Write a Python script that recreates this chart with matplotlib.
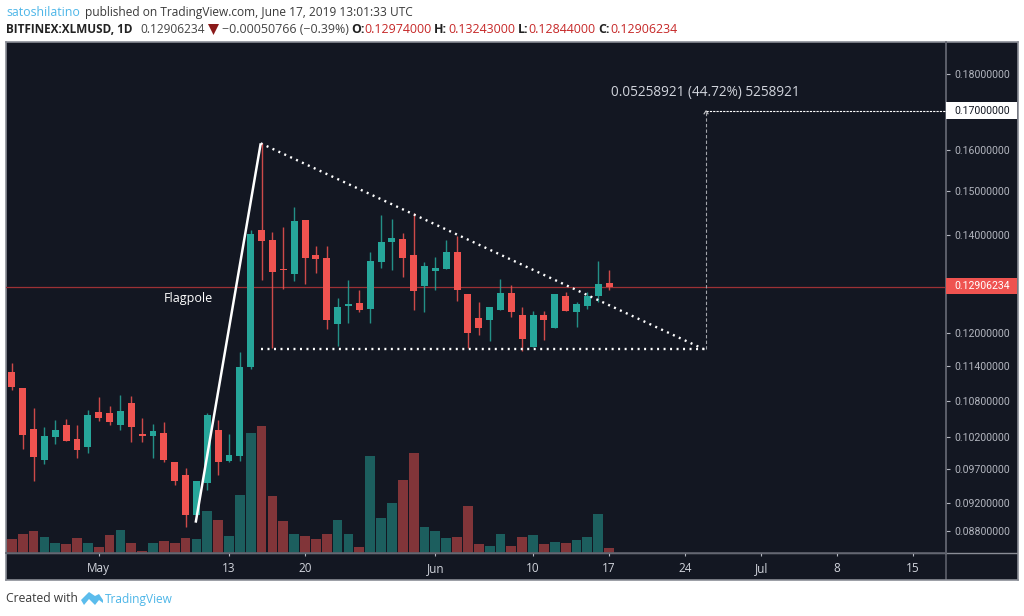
import numpy as np
import matplotlib
matplotlib.use('Agg')
import matplotlib.pyplot as plt
from matplotlib.patches import Rectangle, Polygon

# daily XLMUSD candles from Apr 23 to Jun 17 2019
opens = [0.11298, 0.11014, 0.10329, 0.09844, 0.10200, 0.10394, 0.10168, 0.10042, 0.10607, 0.10596, 0.10389, 0.10758, 0.10243, 0.10216,
         0.10260, 0.09813, 0.09615, 0.09032, 0.09487, 0.10308, 0.09829, 0.09906, 0.11377, 0.14105, 0.13886, 0.13270, 0.13166, 0.14328,
         0.13570, 0.13494, 0.12169, 0.12529, 0.12576, 0.12470, 0.13410, 0.13849, 0.13915, 0.13570, 0.12915, 0.13228, 0.13270, 0.13621,
         0.12760, 0.12284, 0.12251, 0.12439, 0.12780, 0.12353, 0.11750, 0.12353, 0.12099, 0.12720, 0.12400, 0.12517, 0.12726, 0.12974]
highs = [0.11459, 0.11014, 0.10674, 0.10361, 0.10475, 0.10492, 0.10394, 0.10641, 0.10860, 0.10708, 0.10894, 0.10877, 0.10503, 0.10405,
         0.10438, 0.09813, 0.09721, 0.09517, 0.10596, 0.10470, 0.10243, 0.11652, 0.14105, 0.16164, 0.14061, 0.14172, 0.14616, 0.14328,
         0.13750, 0.13750, 0.12687, 0.13043, 0.12840, 0.13621, 0.14441, 0.14350, 0.14046, 0.14479, 0.13410, 0.13515, 0.13886, 0.13973,
         0.12760, 0.12596, 0.12509, 0.13064, 0.12941, 0.12497, 0.12419, 0.12419, 0.12766, 0.12800, 0.12607, 0.12794, 0.13437, 0.13243]
lows = [0.10979, 0.10015, 0.09521, 0.09783, 0.10089, 0.10137, 0.09870, 0.09953, 0.10464, 0.10389, 0.10313, 0.10121, 0.10121, 0.09875,
        0.09813, 0.09457, 0.08864, 0.09032, 0.09388, 0.09615, 0.09813, 0.09829, 0.11346, 0.13043, 0.11726, 0.12861, 0.13023, 0.12962,
        0.13181, 0.12074, 0.11762, 0.12188, 0.12411, 0.12188, 0.13284, 0.13249, 0.13098, 0.12450, 0.12411, 0.12840, 0.13270, 0.12627,
        0.11720, 0.11967, 0.11860, 0.12439, 0.12303, 0.11671, 0.11750, 0.11873, 0.12099, 0.12419, 0.12118, 0.12458, 0.12601, 0.12844]
closes = [0.11036, 0.10232, 0.0989, 0.10216, 0.10313, 0.10137, 0.09995, 0.10563, 0.10513, 0.10438, 0.10629, 0.10356, 0.10216, 0.10292,
          0.09844, 0.09517, 0.09032, 0.09517, 0.10563, 0.09813, 0.09917, 0.11387, 0.14017, 0.13871, 0.13201, 0.13243, 0.14306, 0.13494,
          0.13473, 0.12245, 0.12497, 0.12556, 0.1245, 0.13431, 0.13849, 0.13936, 0.13494, 0.1282, 0.13332, 0.13291, 0.13621, 0.12847,
          0.1201, 0.12099, 0.12509, 0.12786, 0.124, 0.11898, 0.12342, 0.12251, 0.12766, 0.12419, 0.12568, 0.1272, 0.12956, 0.12906]
volumes = [14.0, 19.7, 22.7, 16.0, 10.0, 9.0, 15.0, 10.0, 6.0, 18.7, 23.7, 10.0, 2.0, 10.0, 12.0, 10.0, 15.0, 14.0, 42.3, 33.7, 17.0,
           58.0, 120.0, 127.0, 57.0, 32.7, 19.7, 17.7, 14.0, 19.7, 33.7, 19.7, 6.0, 97.3, 35.7, 50.3, 73.7, 100.3, 26.7, 22.7, 15.0,
           16.0, 47.3, 9.0, 7.0, 19.0, 7.0, 16.0, 18.0, 9.0, 11.0, 10.0, 13.0, 16.0, 39.3, 5.0]

tick_days = [8, 20, 27, 39, 48, 55, 62, 69, 76, 83]
tick_names = ['May', '13', '20', 'Jun', '10', '17', '24', 'Jul', '8', '15']
price_ticks = [0.18, 0.16, 0.15, 0.14, 0.12, 0.114, 0.108, 0.102, 0.097, 0.092, 0.088]

# hand drawn lines on the chart, (day, price)
pole_days = [16.93, 22.92]
pole_prices = [0.0892, 0.16156]
trend_days = [22.92, 63.66]
trend_prices = [0.16156, 0.1171]
base_days = [22.92, 63.93]
base_prices = [0.1171, 0.1171]
target_price = 0.17
last_price = 0.12906234

days = np.arange(len(opens))
W, H = 1024, 616
BG = '#131722'
GREEN = '#26a69a'
RED = '#ef5350'
GREY = '#5d606b'
LABEL = '#b2b5be'
BLUE = '#4db6e8'

plt.rcParams['font.family'] = ['Open Sans', 'DejaVu Sans']


def box(x0, y0, x1, y1):
    return [x0/W, 1-y1/H, (x1-x0)/W, (y1-y0)/H]


def px_text(x, y, s, **kw):
    kw.setdefault('fontsize', 8.9)
    kw.setdefault('va', 'center')
    return fig.text(x/W, 1-y/H, s, **kw)


fig = plt.figure(figsize=(W/100, H/100), dpi=100, facecolor='white')

back = fig.add_axes(box(6, 42, 1017.5, 579.5), facecolor=BG)
back.set_xticks([])
back.set_yticks([])
for s in back.spines.values():
    s.set_color('#8a8d96')
    s.set_linewidth(1.2)
back.plot([939.7/1011.5]*2, [0, 1], color=GREY, linewidth=1.2, transform=back.transAxes)
back.plot([0, 1], [26.2/537.5]*2, color='#8a8d96', linewidth=1.0, transform=back.transAxes)

ax = fig.add_axes(box(6, 42, 945.7, 553.3), facecolor='none')
vol = ax.twinx()
vol.set_ylim(0, 511.3)
vol.axis('off')
colors = [GREEN if c >= o else RED for o, c in zip(opens, closes)]
vol.bar(days, volumes, width=0.9, color=colors, alpha=0.5, linewidth=0)
vol.set_zorder(1)
ax.set_zorder(2)

ax.set_yscale('log')
ax.set_ylim(0.08502, 0.18934)
ax.set_xlim(-0.538, 86.0)
ax.vlines(days, lows, highs, colors=colors, linewidth=1.0, alpha=0.85, zorder=2)
ax.bar(days, np.abs(np.array(closes)-np.array(opens)), bottom=np.minimum(opens, closes), width=0.64,
       color=colors, linewidth=0, zorder=3)
ax.axhline(last_price, color='#9c3135', linewidth=0.9, zorder=1)

ax.plot(pole_days, pole_prices, color='white', linewidth=1.8, zorder=4, solid_capstyle='butt')
dots = (0, (0.85, 1.9))
ax.plot(trend_days, trend_prices, color='white', linewidth=1.7, linestyle=dots, zorder=4)
ax.plot(base_days, base_prices, color='white', linewidth=1.7, linestyle=dots, zorder=4)
ax.plot([base_days[1]]*2, [base_prices[1], target_price], color='#a3a5ab', linewidth=0.8, linestyle=(0, (3, 2)), zorder=4)
ax.plot([base_days[1], 86.0], [target_price]*2, color='white', linewidth=0.8, linestyle=(0, (2, 1)), zorder=4)
ax.plot([63.75, 63.93, 64.11], [0.1692, 0.17, 0.1692], color='#c8c9cc', linewidth=0.8, zorder=4)
ax.text(55.19, 0.1750, '0.05258921 (44.72%) 5258921', color='#d1d4dc', fontsize=9.8, va='center', ha='left')
ax.text(14.0, 0.1268, 'Flagpole', color='white', fontsize=9, va='center', ha='left')

ax.set_xticks(tick_days)
ax.set_xticklabels(tick_names, color='#d1d4dc', fontsize=8.5)
ax.yaxis.tick_right()
ax.set_yticks(price_ticks)
ax.set_yticklabels(['%.8f' % t for t in price_ticks], color=LABEL, fontsize=7.6, family='Roboto')
ax.minorticks_off()
ax.tick_params(axis='x', length=2.5, width=0.8, color=LABEL, pad=4)
ax.tick_params(axis='y', length=3, width=0.8, color=LABEL, pad=2.9)
for name, s in ax.spines.items():
    s.set_visible(name in ('bottom', 'right'))
    s.set_color(GREY)
    s.set_linewidth(1.2)

# boxed price labels on the scale
fig.patches.append(Rectangle((945.7/W, 1-119.3/H), 71.3/W, 17.3/H, transform=fig.transFigure, facecolor='white', zorder=3))
fig.patches.append(Rectangle((945.7/W, 1-294.3/H), 71.3/W, 16.3/H, transform=fig.transFigure, facecolor=RED, zorder=3))
px_text(954, 110.5, '0.17000000', color=BG, fontsize=7.6, family='Roboto', zorder=4)
px_text(954, 286.3, '0.12906234', color='white', fontsize=7.6, family='Roboto', zorder=4)

# header
px_text(6, 12.5, 'satoshilatino', color=BLUE)
px_text(85, 12.5, 'published on TradingView.com, June 17, 2019 13:01:33 UTC', color='#3a3a3a', fontsize=8.55)
px_text(6, 29.5, 'BITFINEX:XLMUSD, 1D', color='#222222', fontweight='bold', fontsize=8.5)
px_text(140, 29.5, '0.12906234', color='#444444', fontsize=8.6)
fig.patches.append(Polygon([(208/W, 1-24/H), (219/W, 1-24/H), (213.5/W, 1-35/H)], transform=fig.transFigure,
                           facecolor='#8b1a1a', zorder=3))
px_text(222, 29.5, '\u22120.00050766 (\u22120.39%)', color='#444444')
for x, s in [(351, 'O:'), (434, 'H:'), (518, 'L:'), (598, 'C:')]:
    px_text(x, 29.5, s, color='#222222', fontweight='bold')
for x, s in [(364, '0.12974000'), (448, '0.13243000'), (528.6, '0.12844000'), (610, '0.12906234')]:
    px_text(x, 29.5, s, color='#c62828')

# footer
px_text(6, 599, 'Created with', color='#3a3a3a', fontsize=8.7)
px_text(105, 599, 'TradingView', color=BLUE, fontsize=8.6)
logo = [(81, 600), (89, 592), (95, 596), (99, 594), (103, 600), (103, 603), (99, 600), (95, 605), (89, 599), (84, 605)]
fig.patches.append(Polygon([(x/W, 1-y/H) for x, y in logo], transform=fig.transFigure, facecolor='#5bbcec', zorder=3))

fig.savefig('out.png', dpi=100)
